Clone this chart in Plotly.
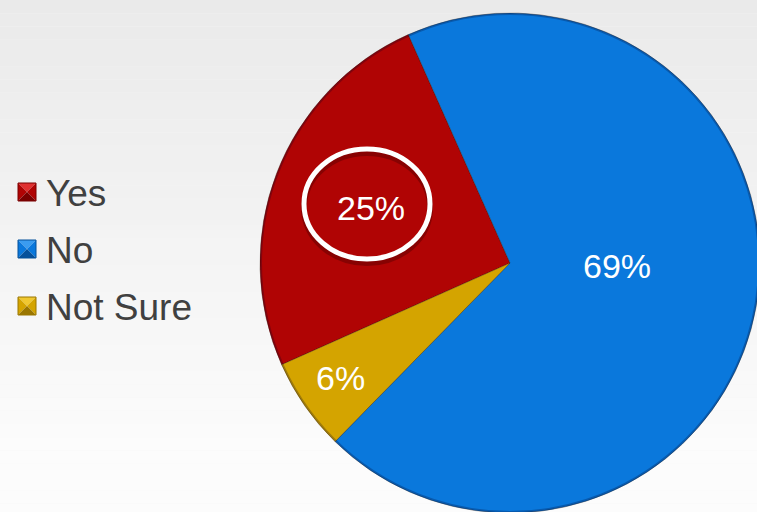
import plotly.graph_objects as go

# Survey answers
labels = ["Yes", "No", "Not Sure"]
values = [25, 69, 6]
colors = ["#b00404", "#0a78dc", "#d4a400"]
light = ["#e03030", "#3a9cf0", "#f0c830"]
dark = ["#7a0000", "#05509a", "#9a7600"]

W, H = 770, 530            # canvas a bit larger than the window; overflow is hidden
CX, CY, R = 510, 263, 250  # pie centre / radius in pixels
LABEL_FONT = dict(family="Liberation Sans, Arial, sans-serif", size=34, color="white")
# where each percentage label sits (pixels)
label_pos = {"Yes": (371, 208), "No": (617, 266), "Not Sure": (340, 378)}


def px(x):
    return x / W


def py(y):
    return 1 - y / H


fig = go.Figure()

fig.add_trace(go.Pie(
    labels=labels,
    values=values,
    sort=False,
    direction="clockwise",
    rotation=246,
    marker=dict(colors=colors, line=dict(color="rgba(40,20,0,0.35)", width=1)),
    textinfo="none",
    domain=dict(x=[px(CX - R), px(CX + R)], y=[py(CY + R), py(CY - R)]),
    showlegend=False,
    hoverinfo="label+percent",
))

shapes = []

# soft vertical background gradient
n_bands = 40
for i in range(n_bands):
    t = i / (n_bands - 1)
    g = int(round(234 + (252 - 234) * min(1.0, t * 1.15)))
    shapes.append(dict(
        type="rect", xref="paper", yref="paper", layer="below",
        x0=0, x1=1, y0=1 - (i + 1) / n_bands, y1=1 - i / n_bands,
        line=dict(width=0), fillcolor=f"rgb({g},{g},{g})",
    ))

# darker rim around the pie
shapes.append(dict(
    type="circle", xref="paper", yref="paper",
    x0=px(CX - R + 1), x1=px(CX + R - 1), y0=py(CY + R - 1), y1=py(CY - R + 1),
    line=dict(color="rgba(0,0,40,0.25)", width=2),
))

# highlight ring around the "Yes" share, with a faint shadow
rcx, rcy, rrx, rry = 367, 204, 63, 55
shapes.append(dict(
    type="circle", xref="paper", yref="paper",
    x0=px(rcx - rrx), x1=px(rcx + rrx), y0=py(rcy + rry + 4), y1=py(rcy - rry + 4),
    line=dict(color="rgba(60,0,0,0.35)", width=6),
))
shapes.append(dict(
    type="circle", xref="paper", yref="paper",
    x0=px(rcx - rrx), x1=px(rcx + rrx), y0=py(rcy + rry), y1=py(rcy - rry),
    line=dict(color="white", width=5),
))

annotations = []

# percentage labels, taken from the slice values
total = sum(values)
for lab, v in zip(labels, values):
    lx, ly = label_pos[lab]
    annotations.append(dict(
        text=f"{100 * v / total:.0f}%", xref="paper", yref="paper",
        x=px(lx), y=py(ly), xanchor="center", yanchor="middle",
        showarrow=False, font=LABEL_FONT,
    ))

# legend entries: bevelled squares with labels
leg_x, leg_y0, leg_dy, half = 27, 192, 57, 9
for i, lab in enumerate(labels):
    cy = leg_y0 + i * leg_dy
    x0, x1 = leg_x - half, leg_x + half
    y0, y1 = cy - half, cy + half
    xc, yc = leg_x, cy
    tris = [
        ([(x0, y0), (x1, y0), (xc, yc)], light[i]),   # top
        ([(x0, y0), (x0, y1), (xc, yc)], colors[i]),  # left
        ([(x1, y0), (x1, y1), (xc, yc)], colors[i]),  # right
        ([(x0, y1), (x1, y1), (xc, yc)], dark[i]),    # bottom
    ]
    for pts, col in tris:
        path = "M " + " L ".join(f"{px(a):.5f},{py(b):.5f}" for a, b in pts) + " Z"
        shapes.append(dict(type="path", xref="paper", yref="paper", path=path,
                           fillcolor=col, line=dict(width=0)))
    shapes.append(dict(type="rect", xref="paper", yref="paper",
                       x0=px(x0), x1=px(x1), y0=py(y1), y1=py(y0),
                       line=dict(color=dark[i], width=1)))
    annotations.append(dict(
        text=lab, xref="paper", yref="paper", x=px(44), y=py(cy + 1),
        xanchor="left", yanchor="middle", showarrow=False,
        font=dict(family="Liberation Sans, Arial, sans-serif", size=37, color="#404040"),
    ))

fig.update_layout(
    width=W, height=H,
    margin=dict(l=0, r=0, t=0, b=0),
    paper_bgcolor="#f5f5f5",
    plot_bgcolor="rgba(0,0,0,0)",
    shapes=shapes,
    annotations=annotations,
    showlegend=False,
)

fig.write_html(
    "out.html",
    post_script="document.documentElement.style.overflow='hidden';document.body.style.overflow='hidden';document.body.style.margin='0';",
)
